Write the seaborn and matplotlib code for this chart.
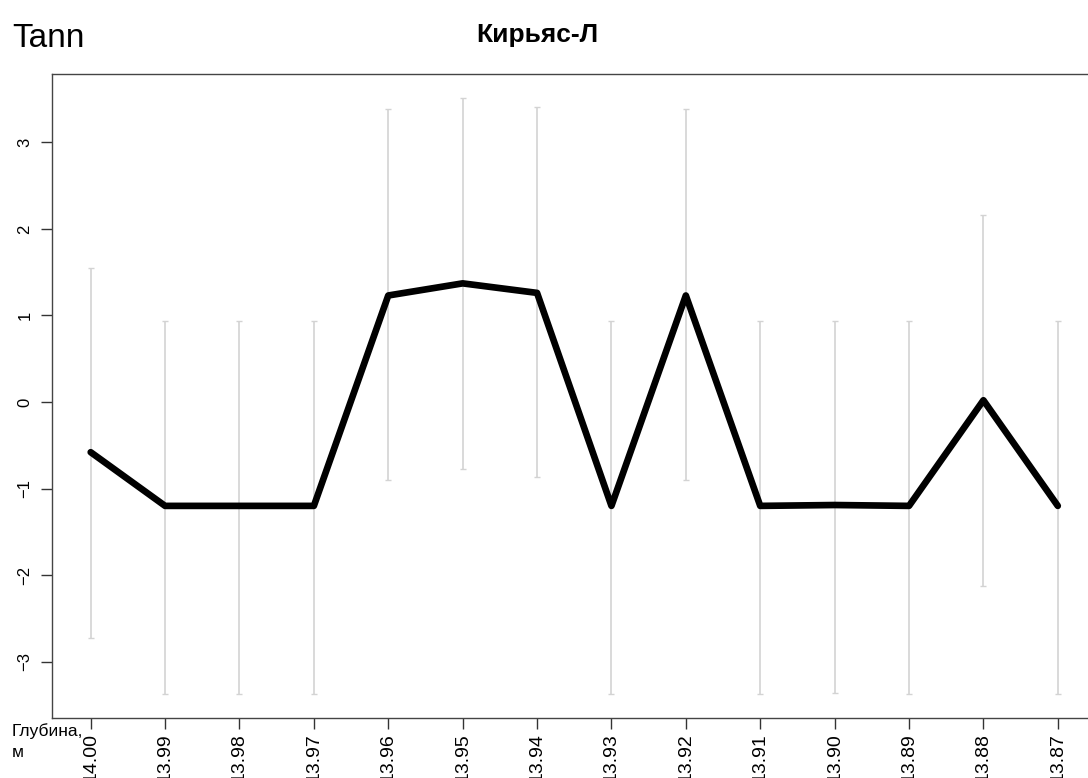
import numpy as np
import pandas as pd
import seaborn as sns
from matplotlib import pyplot as plt

depths = ["14.00", "13.99", "13.98", "13.97", "13.96", "13.95", "13.94",
          "13.93", "13.92", "13.91", "13.90", "13.89", "13.88", "13.87"]
tann = [-0.58, -1.20, -1.20, -1.20, 1.23, 1.37, 1.26,
        -1.20, 1.23, -1.20, -1.19, -1.20, 0.02, -1.20]
upper = [1.55, 0.93, 0.93, 0.93, 3.38, 3.51, 3.41,
         0.93, 3.38, 0.93, 0.94, 0.93, 2.16, 0.93]
lower = [-2.73, -3.37, -3.37, -3.37, -0.90, -0.77, -0.87,
         -3.37, -0.90, -3.37, -3.36, -3.37, -2.12, -3.37]

df = pd.DataFrame({"pos": np.arange(len(depths)), "val": tann,
                   "lo": lower, "hi": upper})

sns.set_style("white")
plt.rcParams["font.family"] = ["Liberation Sans", "DejaVu Sans"]
plt.rcParams["text.color"] = "black"
plt.rcParams["xtick.color"] = "black"
plt.rcParams["ytick.color"] = "black"

fig = plt.figure(figsize=(10.88, 7.78), dpi=100)
ax = fig.add_axes([0.0478, 0.0771, 0.960, 0.828])

# intervals
ax.errorbar(df["pos"], df["val"],
            yerr=[df["val"] - df["lo"], df["hi"] - df["val"]],
            fmt="none", ecolor="#d3d3d3", elinewidth=1.2, capsize=2.5,
            capthick=1.0, zorder=1)
sns.lineplot(data=df, x="pos", y="val", color="black", linewidth=4.8,
             ax=ax, zorder=2)

ax.set_xlim(-0.52, 13.52)
ax.set_ylim(-3.65, 3.79)
ax.set_xticks(df["pos"])
ax.set_xticklabels(depths, rotation=90, fontsize=14)
ax.set_yticks(range(-3, 4))
ax.set_yticklabels([str(v).replace("-", "−") for v in range(-3, 4)],
                   rotation=90, va="center", fontsize=12)
ax.tick_params(axis="both", direction="out", length=8, width=1,
               color="#333333", pad=6, bottom=True, left=True)
ax.tick_params(axis="x", pad=3)
ax.set_xlabel("")
ax.set_ylabel("")
for s in ax.spines.values():
    s.set_color("#444444")
    s.set_linewidth(1)

fig.text(0.011, 0.951, "Tann", fontsize=24, ha="left", va="center")
fig.text(0.494, 0.955, "Кирьяс-Л", fontsize=19, fontweight="bold",
         ha="center", va="center")
fig.text(0.011, 0.070, "Глубина,\nм", fontsize=12.5, ha="left", va="top",
         linespacing=1.45)

fig.savefig("out.png", dpi=100)
